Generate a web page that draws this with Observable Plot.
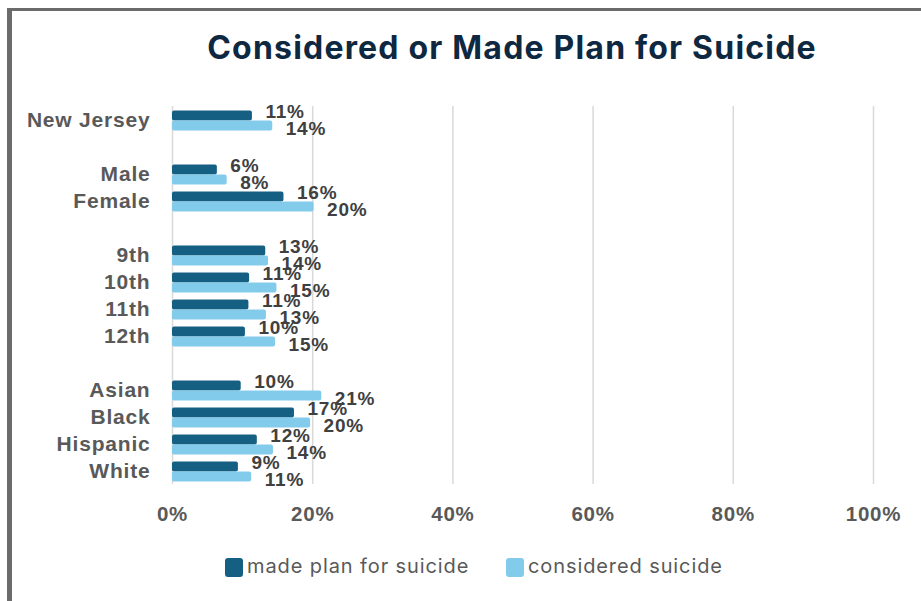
<!DOCTYPE html>
<html>
<head>
<meta charset="utf-8">
<script src="https://cdn.jsdelivr.net/npm/d3@7"></script>
<script src="https://cdn.jsdelivr.net/npm/@observablehq/plot@0.6"></script>
<style>
  html, body { margin: 0; padding: 0; background: #fff; }
  #wrap { position: relative; width: 921px; height: 601px; overflow: hidden; background: #fff; }
  #frame { position: absolute; left: 7px; top: 8px; width: 2000px; height: 2000px;
           border-left: 5px solid #6b6b6b; border-top: 3px solid #6b6b6b; box-sizing: border-box; }
  #title { position: absolute; left: 103px; width: 818px; top: 32px; text-align: center;
           font-family: Inter, "Liberation Sans", sans-serif; font-weight: 700; font-size: 32px;
           letter-spacing: 1.2px; line-height: 32px; color: #0e2841; white-space: nowrap; }
  #chart { position: absolute; left: 0; top: 90px; }
  #chart svg text { letter-spacing: 0.8px; }
  .leg { position: absolute; top: 556px; height: 24px; font-family: Inter, "Liberation Sans", sans-serif;
         font-size: 20px; line-height: 20px; letter-spacing: 0.9px; color: #595959; white-space: nowrap; }
  .sw { position: absolute; left: 0; top: 2px; width: 18px; height: 19px; border-radius: 3px; }
  .lt { position: absolute; left: 22px; top: 0; }
</style>
</head>
<body>
<div id="wrap">
  <div id="frame"></div>
  <div id="title"></div>
  <div id="chart"></div>
  <div id="legend"></div>
</div>
<script>
// ---- data ----
const titleText = "Considered or Made Plan for Suicide";
const categories = ["New Jersey", "Male", "Female", "9th", "10th", "11th", "12th", "Asian", "Black", "Hispanic", "White"];
const groupSizes = [1, 2, 4, 4];
const madePlan   = [11.4, 6.4, 15.9, 13.3, 11.0, 10.9, 10.4, 9.8, 17.4, 12.1, 9.4];
const considered = [14.3, 7.8, 20.2, 13.7, 14.9, 13.4, 14.7, 21.3, 19.7, 14.4, 11.3];
const seriesNames = ["made plan for suicide", "considered suicide"];
const seriesColors = ["#156082", "#83cbeb"];
const xTicks = [0, 20, 40, 60, 80, 100];

// ---- build ----
document.getElementById("title").textContent = titleText;

const yDomain = [];
let k = 0;
groupSizes.forEach((n, gi) => {
  if (gi > 0) yDomain.push("gap" + gi);
  for (let i = 0; i < n; i++) yDomain.push(categories[k++]);
});

const rows = categories.map((c, i) => ({cat: c, made: madePlan[i], cons: considered[i]}));
const fmt = v => Math.round(v) + "%";

const chart = Plot.plot({
  width: 921,
  height: 439,
  marginTop: 16,
  marginBottom: 45,
  marginLeft: 172,
  marginRight: 48,
  style: {fontFamily: "'Liberation Sans', Arial, sans-serif", background: "transparent", overflow: "visible"},
  x: {domain: [0, 100]},
  y: {domain: yDomain, padding: 0},
  marks: [
    Plot.gridX(xTicks, {stroke: "#d9d9d9", strokeOpacity: 1, strokeWidth: 1.5}),
    Plot.axisX(xTicks, {tickSize: 0, tickPadding: 22, tickFormat: d => d + "%", fontSize: 20.5,
      fontWeight: "bold", fill: "#595959", label: null}),
    Plot.axisY({tickSize: 0, tickPadding: 22, tickFormat: d => d.startsWith("gap") ? "" : d,
      fontSize: 21, fontWeight: "bold", fill: "#595959", label: null}),
    Plot.barX(rows, {x: "made", y: "cat", fill: seriesColors[0], insetTop: 4.5, insetBottom: 12.5, rx: 2}),
    Plot.barX(rows, {x: "cons", y: "cat", fill: seriesColors[1], insetTop: 14.5, insetBottom: 2.5, rx: 2}),
    Plot.text(rows, {x: "made", y: "cat", text: d => fmt(d.made), dx: 13, dy: -8, textAnchor: "start",
      fontSize: 19, fontWeight: "bold", fill: "#404040"}),
    Plot.text(rows, {x: "cons", y: "cat", text: d => fmt(d.cons), dx: 13, dy: 9, textAnchor: "start",
      fontSize: 19, fontWeight: "bold", fill: "#404040"})
  ]
});
document.getElementById("chart").appendChild(chart);

const legend = document.getElementById("legend");
const legLefts = [225, 506];
seriesNames.forEach((name, i) => {
  const item = document.createElement("div");
  item.className = "leg";
  item.style.left = legLefts[i] + "px";
  const sw = document.createElement("div");
  sw.className = "sw";
  sw.style.background = seriesColors[i];
  const t = document.createElement("div");
  t.className = "lt";
  t.textContent = name;
  item.appendChild(sw);
  item.appendChild(t);
  legend.appendChild(item);
});
</script>
</body>
</html>
